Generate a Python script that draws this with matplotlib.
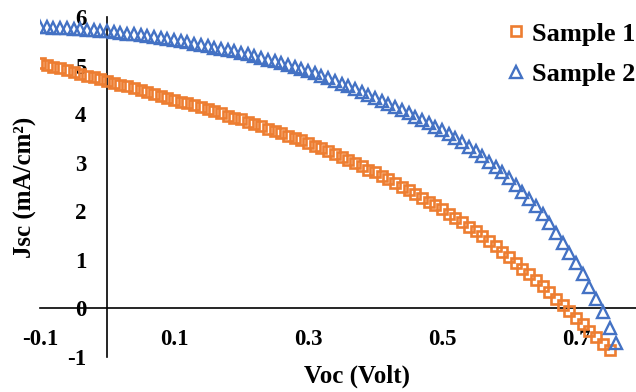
import matplotlib
matplotlib.use("Agg")
import matplotlib.pyplot as plt

plt.rcParams['font.family'] = ['Liberation Serif', 'DejaVu Serif']
plt.rcParams['font.weight'] = 'bold'
plt.rcParams['axes.unicode_minus'] = False

# voltage sweep (V), 0.01 V steps
voc = [-0.10, -0.09, -0.08, -0.07, -0.06, -0.05, -0.04, -0.03, -0.02, -0.01,
       0.00, 0.01, 0.02, 0.03, 0.04, 0.05, 0.06, 0.07, 0.08, 0.09,
       0.10, 0.11, 0.12, 0.13, 0.14, 0.15, 0.16, 0.17, 0.18, 0.19,
       0.20, 0.21, 0.22, 0.23, 0.24, 0.25, 0.26, 0.27, 0.28, 0.29,
       0.30, 0.31, 0.32, 0.33, 0.34, 0.35, 0.36, 0.37, 0.38, 0.39,
       0.40, 0.41, 0.42, 0.43, 0.44, 0.45, 0.46, 0.47, 0.48, 0.49,
       0.50, 0.51, 0.52, 0.53, 0.54, 0.55, 0.56, 0.57, 0.58, 0.59,
       0.60, 0.61, 0.62, 0.63, 0.64, 0.65, 0.66, 0.67, 0.68, 0.69,
       0.70, 0.71, 0.72, 0.73, 0.74, 0.75, 0.76]

# current density (mA/cm2), sample 1 ends at 0.75 V
jsc_1 = [5.06, 5.02, 4.98, 4.94, 4.91, 4.87, 4.83, 4.79, 4.76, 4.72,
         4.68, 4.64, 4.60, 4.57, 4.53, 4.49, 4.45, 4.41, 4.38, 4.34,
         4.30, 4.26, 4.22, 4.18, 4.14, 4.10, 4.06, 4.02, 3.97, 3.93,
         3.89, 3.84, 3.80, 3.75, 3.70, 3.66, 3.61, 3.56, 3.51, 3.46,
         3.41, 3.35, 3.30, 3.24, 3.18, 3.12, 3.06, 2.99, 2.93, 2.86,
         2.80, 2.73, 2.66, 2.59, 2.51, 2.44, 2.36, 2.28, 2.20, 2.12,
         2.04, 1.95, 1.86, 1.77, 1.68, 1.59, 1.49, 1.38, 1.28, 1.17,
         1.06, 0.94, 0.82, 0.70, 0.58, 0.46, 0.33, 0.20, 0.07, -0.06,
         -0.19, -0.32, -0.46, -0.59, -0.73, -0.86]

jsc_2 = [5.80, 5.79, 5.78, 5.78, 5.77, 5.76, 5.75, 5.74, 5.73, 5.72,
         5.71, 5.70, 5.68, 5.66, 5.64, 5.63, 5.61, 5.59, 5.57, 5.55,
         5.53, 5.51, 5.48, 5.45, 5.43, 5.40, 5.37, 5.34, 5.32, 5.29,
         5.26, 5.23, 5.19, 5.16, 5.12, 5.09, 5.05, 5.01, 4.97, 4.93,
         4.89, 4.84, 4.79, 4.74, 4.68, 4.63, 4.57, 4.51, 4.45, 4.39,
         4.34, 4.28, 4.21, 4.15, 4.08, 4.02, 3.95, 3.88, 3.81, 3.74,
         3.67, 3.59, 3.50, 3.42, 3.33, 3.24, 3.13, 3.02, 2.91, 2.80,
         2.69, 2.55, 2.40, 2.25, 2.10, 1.94, 1.75, 1.55, 1.35, 1.15,
         0.94, 0.70, 0.45, 0.19, -0.08, -0.40, -0.72]

x_ticks = [-0.1, 0.1, 0.3, 0.5, 0.7]
x_labels = ['-0.1', '0.1', '0.3', '0.5', '0.7']
y_ticks = [-1, 0, 1, 2, 3, 4, 5, 6]

W, H = 636, 392
fig = plt.figure(figsize=(W / 100, H / 100), dpi=100)
# plot area: x=-0.1 at 40px, 0.8 at 643px; y=6 at 17px, -1 at 357px
ax = fig.add_axes([40 / W, 1 - 357 / H, 603 / W, 340 / H])

ax.plot(voc[:len(jsc_1)], jsc_1, ls='none', marker='s', ms=7.8, mfc='none',
        mec='#ED7D31', mew=1.9, label='Sample 1', zorder=3)
ax.plot(voc[:len(jsc_2)], jsc_2, ls='none', marker='^', ms=9, mfc='none',
        mec='#4472C4', mew=1.7, label='Sample 2', zorder=3)

ax.set_xlim(-0.1, 0.8)
ax.set_ylim(-1, 6)

ax.spines['top'].set_visible(False)
ax.spines['right'].set_visible(False)
ax.spines['left'].set_position(('data', 0))
ax.spines['bottom'].set_position(('data', 0))
for s in ('left', 'bottom'):
    ax.spines[s].set_linewidth(1.2)

ax.set_xticks(x_ticks)
ax.set_xticklabels(x_labels)
ax.set_yticks(y_ticks)
ax.tick_params(axis='x', length=0, pad=15, labelsize=16.5)
ax.tick_params(axis='y', length=0, pad=15, labelsize=16.5)
for lab in ax.get_xticklabels() + ax.get_yticklabels():
    lab.set_fontweight('bold')

fig.text(356.7 / W, 1 - 376 / H, 'Voc (Volt)', ha='center', va='center',
         fontsize=18, fontweight='bold')
fig.text(25 / W, 1 - 187.5 / H, 'Jsc (mA/cm²)', ha='center',
         va='center', rotation=90, fontsize=18, fontweight='bold')

ax.legend(loc='upper right', bbox_to_anchor=(1.019, 0.977),
          bbox_transform=fig.transFigure, frameon=False,
          handlelength=0.6, handletextpad=0.3, labelspacing=0.65,
          borderaxespad=0.1, prop={'weight': 'bold', 'size': 19})

fig.savefig('out.png', dpi=100)
